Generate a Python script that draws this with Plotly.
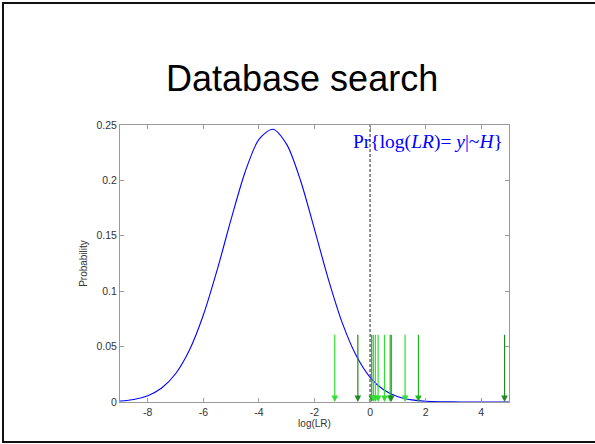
import plotly.graph_objects as go

# ---- data ----
curve_x = [-9, -8.5, -8, -7.5, -7, -6.5, -6, -5.5, -5, -4.5, -4, -3.5, -3, -2.5,
           -2, -1.5, -1, -0.5, 0, 0.5, 1, 1.5, 2, 2.5, 3, 3.5, 4, 4.5, 5]
curve_y = [0.0009, 0.0023, 0.0057, 0.0126, 0.0255, 0.0469, 0.0785, 0.1194, 0.1650,
           0.2074, 0.2370, 0.2462, 0.2325, 0.1997, 0.1558, 0.1107, 0.0714, 0.0419,
           0.0223, 0.0108, 0.0048, 0.0019, 0.0007, 0.0002, 0.0001, 0.0, 0.0, 0.0, 0.0]

arrow_x = [-1.27, -0.44, 0.06, 0.12, 0.19, 0.29, 0.52, 0.72, 0.76, 1.26, 1.74, 4.84]
arrow_top = 0.062
arrow_colors = ["#33dd33", "#1f8a1f", "#2a9a2a", "#33dd33", "#33dd33", "#33dd33",
                "#33dd33", "#33dd33", "#1f8a1f", "#33dd33", "#22b822", "#1f8a1f"]

threshold_x = [0, 0]
threshold_y = [0, 0.25]

x_ticks = [-8, -6, -4, -2, 0, 2, 4]
x_ticklabels = ["-8", "-6", "-4", "-2", "0", "2", "4"]
y_ticks = [0, 0.05, 0.1, 0.15, 0.2, 0.25]
y_ticklabels = ["0", "0.05", "0.1", "0.15", "0.2", "0.25"]

title_text = "Database search"
curve_label = "Pr{log(<i>LR</i>)= <i>y</i>|~<i>H</i>}"
x_title = "log(LR)"
y_title = "Probability"

# ---- layout geometry (pixels) ----
W, H = 595, 444
L, R, T, B = 120, 509, 125, 402


def px(xp):
    return (xp - L) / (R - L)


def py(yp):
    return (B - yp) / (B - T)


fig = go.Figure()

fig.add_trace(go.Scatter(x=curve_x, y=curve_y, mode="lines",
                         line=dict(color="#0000ff", width=1.1, shape="spline", smoothing=0.8),
                         hoverinfo="skip", showlegend=False))

fig.add_trace(go.Scatter(x=threshold_x, y=threshold_y, mode="lines",
                         line=dict(color="#555555", width=1.3, dash="3px,2px"),
                         hoverinfo="skip", showlegend=False))

annotations = []
for xv, col in zip(arrow_x, arrow_colors):
    annotations.append(dict(x=xv, y=0, ax=xv, ay=arrow_top, xref="x", yref="y",
                            axref="x", ayref="y", showarrow=True, arrowhead=2,
                            arrowsize=1.1, arrowwidth=1.2, arrowcolor=col, text=""))

annotations.append(dict(x=px(302), y=py(78), xref="paper", yref="paper",
                        text=title_text, showarrow=False, xanchor="center", yanchor="middle",
                        font=dict(family="Liberation Sans, Arial", size=36, color="#000000")))

annotations.append(dict(x=px(505), y=py(142), xref="paper", yref="paper",
                        text=curve_label, showarrow=False, xanchor="right", yanchor="middle",
                        font=dict(family="Liberation Serif, Times New Roman", size=19.5, color="#0000ff")))

shapes = [dict(type="rect", xref="paper", yref="paper",
               x0=px(3), x1=px(600), y0=py(442), y1=py(3),
               line=dict(color="#111111", width=2), fillcolor="rgba(0,0,0,0)", layer="below")]

axis_common = dict(showline=True, mirror="ticks", linecolor="#9a9a9a", linewidth=1,
                   ticks="inside", ticklen=4, tickcolor="#9a9a9a", showgrid=False,
                   zeroline=False,
                   tickfont=dict(family="Liberation Sans, Arial", size=10.5, color="#333333"),
                   title_font=dict(family="Liberation Sans, Arial", size=10, color="#333333"))

fig.update_layout(
    width=W, height=H,
    margin=dict(l=L, r=W - R, t=T, b=H - B, pad=0),
    paper_bgcolor="white", plot_bgcolor="white",
    xaxis=dict(range=[-9, 5], tickvals=x_ticks, ticktext=x_ticklabels,
               title=dict(text=x_title, standoff=1), **axis_common),
    yaxis=dict(range=[0, 0.25], tickvals=y_ticks, ticktext=y_ticklabels,
               title=dict(text=y_title, standoff=6), **axis_common),
    annotations=annotations,
    shapes=shapes,
    showlegend=False,
)

fig.write_html("out.html", config={"displayModeBar": False},
               post_script="document.body.style.margin='0';document.body.style.overflow='hidden';")
